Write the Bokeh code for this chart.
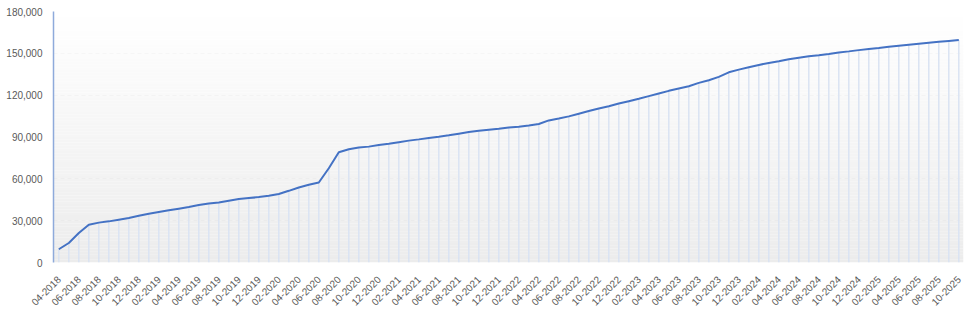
import math
from bokeh.plotting import figure
from bokeh.models import FixedTicker, NumeralTickFormatter, Range1d, ColumnDataSource
from bokeh.embed import file_html
from bokeh.resources import INLINE

start_year, start_month = 2018, 4
values = [
    9500, 14000, 21100, 27100, 28600, 29500, 30700, 31900, 33500, 35000,
    36200, 37400, 38600, 39800, 41200, 42300, 43100, 44300, 45500, 46200,
    46900, 47900, 49100, 51400, 53800, 55700, 57400, 67600, 79100, 81200,
    82500, 83100, 84200, 85200, 86300, 87400, 88300, 89300, 90200, 91200,
    92400, 93600, 94500, 95200, 95900, 96800, 97400, 98300, 99300, 101900,
    103300, 104800, 106700, 108600, 110500, 112100, 114000, 115700, 117400, 119300,
    121200, 123100, 124800, 126400, 128800, 130700, 133100, 136400, 138300, 140000,
    141700, 143100, 144300, 145700, 146900, 147900, 148700, 149600, 150600, 151400,
    152300, 153100, 153900, 154800, 155500, 156200, 156900, 157600, 158300, 158900,
    159500,
]
labels = []
y, m = start_year, start_month
for _ in values:
    labels.append(f"{m:02d}-{y}")
    m += 1
    if m > 12:
        m = 1
        y += 1

y_ticks = [0, 30000, 60000, 90000, 120000, 150000, 180000]

n = len(values)
xs = list(range(n))
x0, x1 = -0.53, n - 1 + 0.47

p = figure(width=974, height=312, output_backend="svg", toolbar_location=None,
           x_range=Range1d(x0, x1), y_range=Range1d(0, 180000),
           min_border_left=53, min_border_right=11, min_border_top=11, min_border_bottom=10)
p.outline_line_color = None
p.background_fill_color = "white"
p.border_fill_color = "white"

# vertical gradient background (white at top -> light grey at bottom)
nb = 90
bots, tops, cols = [], [], []
for k in range(nb):
    b = 180000 * k / nb
    t = 180000 * (k + 1) / nb
    f = (k + 0.5) / nb
    c = int(round(236 + (255 - 236) * f))
    bots.append(b)
    tops.append(t)
    cols.append(f"#{c:02x}{c:02x}{c:02x}")
p.quad(left=x0, right=x1, bottom=bots, top=tops, fill_color=cols, line_color=None)

src = ColumnDataSource(dict(x=xs, v=values, z=[0] * n))
p.segment(x0="x", y0="z", x1="x", y1="v", source=src, line_color="#dae3f3", line_width=1.5)
p.line("x", "v", source=src, line_color="#4472c4", line_width=2)

p.xgrid.grid_line_color = None
p.ygrid.grid_line_color = "#d9d9d9"
p.ygrid.grid_line_dash = "4 3"
p.ygrid.grid_line_width = 1
p.ygrid.level = "underlay"

p.yaxis.ticker = FixedTicker(ticks=y_ticks)
p.yaxis.formatter = NumeralTickFormatter(format="0,0")
p.yaxis.axis_line_color = "#8eaadb"
p.yaxis.axis_line_width = 1.5
p.yaxis.major_tick_line_color = None
p.yaxis.minor_tick_line_color = None
p.yaxis.major_tick_out = 0
p.yaxis.major_tick_in = 0
p.yaxis.minor_tick_out = 0
p.yaxis.major_label_text_font = "Liberation Sans"
p.yaxis.major_label_text_font_size = "10px"
p.yaxis.major_label_text_color = "#595959"
p.yaxis.major_label_standoff = 11

p.xaxis.ticker = FixedTicker(ticks=list(range(0, n, 2)))
p.xaxis.major_label_overrides = {i: labels[i] for i in range(0, n, 2)}
p.xaxis.major_label_orientation = math.pi / 4
p.xaxis.axis_line_color = None
p.xaxis.major_tick_line_color = None
p.xaxis.minor_tick_line_color = None
p.xaxis.major_tick_out = 0
p.xaxis.major_tick_in = 0
p.xaxis.minor_tick_out = 0
p.xaxis.major_label_text_font = "Liberation Sans"
p.xaxis.major_label_text_font_size = "10px"
p.xaxis.major_label_text_color = "#595959"
p.xaxis.major_label_standoff = 15

open("out.html", "w").write(file_html(p, INLINE))
